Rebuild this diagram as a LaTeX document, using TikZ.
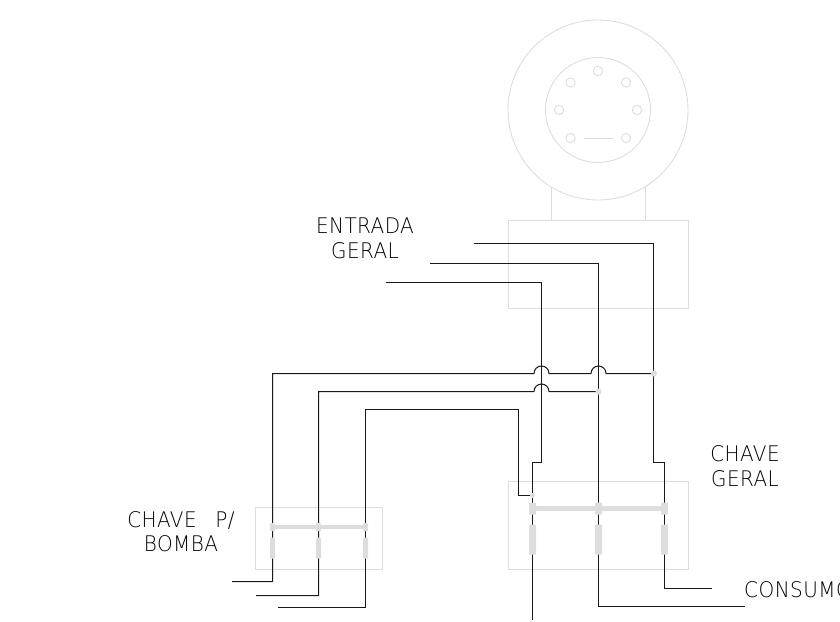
\documentclass[tikz,border=0pt]{standalone}
\usepackage{fontspec}
\setmainfont[FakeStretch=0.93,LetterSpace=2]{DejaVu Sans ExtraLight}
\definecolor{pale}{HTML}{DDDDDD}
\tikzset{
  faint/.style={draw=pale,line width=0.9pt},
  wire/.style={draw=black!90,line width=1pt},
  label/.style={font=\fontsize{21.5}{24.5}\selectfont,align=center,inner sep=0},
  dot/.style={fill=pale,circle,minimum size=6pt,inner sep=0},
  part/.style={fill=pale,rounded corners=1pt,inner sep=0}
}
\begin{document}
\begin{tikzpicture}[x=1pt,y=-1pt]
        \useasboundingbox (0,0) rectangle (840,621);
        % pump
        \draw[faint] (598,110) circle (90pt) (598,110) circle (52.5pt);
        \foreach \x/\y in {598/71,570.5/82.5,626/82.5,559/110,637/110,570.5/138,626/138}
          \draw[faint] (\x,\y) circle (4.7pt);
        \draw[faint] (584,138) -- (613,138);
        \draw[faint] (551,187) -- (551,220) (645,187) -- (645,220);
        \draw[faint] (508,220) rectangle (688,308);
        \draw[faint] (508,481) rectangle (688,569);
        \draw[faint] (255,507) rectangle (382,569);
        % wires
        \draw[wire] (474,243.5) -- (653.5,243.5) -- (653.5,462.5) -- (664.5,462.5) -- (664.5,588.5) -- (712,588.5);
        \draw[wire] (430,263.5) -- (598.5,263.5) -- (598.5,606.5) -- (745,606.5);
        \draw[wire] (386,282.5) -- (541.5,282.5) -- (541.5,462.5) -- (532.5,462.5) -- (532.5,620);
        \draw[wire] (232,581.5) -- (272.5,581.5) -- (272.5,373.5) -- (534,373.5) arc[start angle=180,end angle=360,radius=7.5]
          -- (591,373.5) arc[start angle=180,end angle=360,radius=7.5] -- (654,373.5);
        \draw[wire] (256,595.5) -- (318.5,595.5) -- (318.5,391.5) -- (534,391.5) arc[start angle=180,end angle=360,radius=7.5] -- (598,391.5);
        \draw[wire] (278,607.5) -- (365.5,607.5) -- (365.5,409.5) -- (518.5,409.5) -- (518.5,495.5) -- (532.5,495.5);
        % switch parts
        \draw[pale,line width=5pt] (532.5,508.5) -- (664.5,508.5);
        \draw[pale,line width=4.5pt] (272.5,527) -- (365.5,527);
        \foreach \x/\n in {532.5/a,598.5/b,664.5/c} {
          \node[part,minimum width=7pt,minimum height=12pt] (top\n) at (\x,508.5) {};
          \node[part,minimum width=7pt,minimum height=30pt] (blade\n) at (\x,539.5) {};
        }
        \foreach \x/\n in {272.5/d,318.5/e,365.5/f} {
          \node[part,minimum width=5pt,minimum height=8pt] (top\n) at (\x,527) {};
          \node[part,minimum width=5pt,minimum height=21pt] (blade\n) at (\x,548) {};
        }
        \node[dot] (dot1) at (654,373.5) {};
        \node[dot] (dot2) at (598.5,391.5) {};
        \node[dot,minimum size=5pt] (dot3) at (532.5,495.5) {};
        % labels
        \node[label] (entrada) at (365,238.5) {ENTRADA\\GERAL};
        \node[label] (chavegeral) at (745,466) {CHAVE\\GERAL};
        \node[label] (chavebomba) at (181,531.5) {CHAVE\hspace{12pt} P/\\BOMBA};
        \node[label,anchor=west] (consumo) at (744,589.5) {CONSUMO};
      \end{tikzpicture}
\end{document}
